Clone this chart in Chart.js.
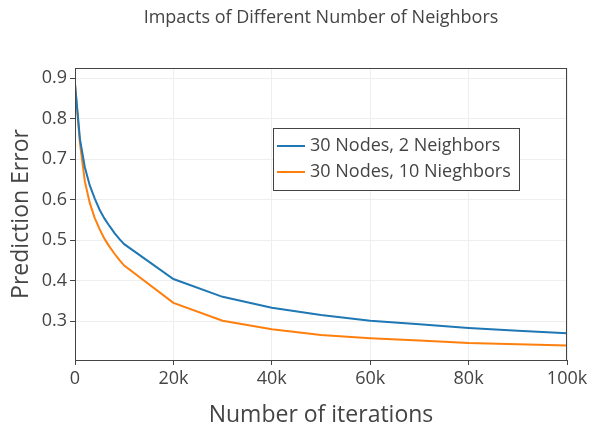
<!DOCTYPE html>
<html>
<head>
<meta charset="utf-8">
<script src="https://cdn.jsdelivr.net/npm/chart.js@4/dist/chart.umd.min.js"></script>
<style>
  html, body { margin: 0; padding: 0; background: #fff; }
  #wrap { width: 596px; height: 429px; }
</style>
</head>
<body>
<div id="wrap"><canvas id="neighborsChart" width="596" height="429"></canvas></div>
<script>
// Veriler (grafikten okunan yaklaşık değerler)
const iterations = [0, 1000, 2000, 3000, 4000, 5000, 6000, 7000, 8000, 9000, 10000,
                    20000, 30000, 40000, 50000, 60000, 70000, 80000, 90000, 100000];
const errTwoNeighbors = [0.885, 0.75, 0.68, 0.635, 0.603, 0.575, 0.553, 0.535, 0.518, 0.503, 0.49,
                         0.404, 0.36, 0.333, 0.315, 0.301, 0.292, 0.283, 0.276, 0.27];
const errTenNeighbors = [0.885, 0.74, 0.645, 0.592, 0.555, 0.527, 0.503, 0.484, 0.467, 0.451, 0.437,
                         0.345, 0.301, 0.28, 0.266, 0.258, 0.252, 0.246, 0.243, 0.24];
const seriesLabels = ['30 Nodes, 2 Neighbors', '30 Nodes, 10 Nieghbors'];
const seriesColors = ['#1f77b4', '#ff7f0e'];
const xTickLabels = ['0', '20k', '40k', '60k', '80k', '100k'];
const yTickValues = [0.3, 0.4, 0.5, 0.6, 0.7, 0.8, 0.9];
const chartTitle = 'Impacts of Different Number of Neighbors';

const STYLE = {
    textColor: '#444',
    gridColor: '#eee',
    fontFamily: "'Open Sans', sans-serif"
};

function toPoints(values) {
    return values.map((v, i) => ({ x: iterations[i], y: v }));
}

// başlık, çerçeve ve kutulu lejant
const plotlyLook = {
    id: 'plotlyLook',
    afterDraw(chart) {
        const ctx = chart.ctx;
        const a = chart.chartArea;
        ctx.save();
        // ayna eksen çizgileri
        ctx.strokeStyle = '#444';
        ctx.lineWidth = 1;
        ctx.strokeRect(Math.round(a.left) + 0.5, Math.round(a.top) + 0.5,
                       Math.round(a.right - a.left) - 1, Math.round(a.bottom - a.top));

        // başlık (çizim alanına ortalı)
        ctx.fillStyle = STYLE.textColor;
        ctx.font = '18px ' + STYLE.fontFamily;
        ctx.textAlign = 'center';
        ctx.textBaseline = 'middle';
        ctx.fillText(chartTitle, (a.left + a.right) / 2, 18);

        // lejant
        const bx = 273, by = 128, bw = 246, bh = 62;
        ctx.fillStyle = '#fff';
        ctx.fillRect(bx, by, bw, bh);
        ctx.strokeStyle = '#444';
        ctx.strokeRect(bx + 0.5, by + 0.5, bw, bh);
        ctx.font = '18px ' + STYLE.fontFamily;
        ctx.textAlign = 'left';
        seriesLabels.forEach((lbl, i) => {
            const y = 146 + i * 26;
            ctx.strokeStyle = seriesColors[i];
            ctx.lineWidth = 2;
            ctx.beginPath();
            ctx.moveTo(277, y);
            ctx.lineTo(305, y);
            ctx.stroke();
            ctx.fillStyle = STYLE.textColor;
            ctx.fillText(lbl, 310, y);
        });
        ctx.restore();
    }
};

const ctx = document.getElementById('neighborsChart').getContext('2d');
new Chart(ctx, {
    type: 'line',
    data: {
        datasets: [
            {
                label: seriesLabels[0],
                data: toPoints(errTwoNeighbors),
                borderColor: seriesColors[0],
                borderWidth: 2,
                pointRadius: 0,
                tension: 0,
                fill: false
            },
            {
                label: seriesLabels[1],
                data: toPoints(errTenNeighbors),
                borderColor: seriesColors[1],
                borderWidth: 2,
                pointRadius: 0,
                tension: 0,
                fill: false
            }
        ]
    },
    options: {
        responsive: false,
        animation: false,
        layout: { padding: { left: 0, top: 68, right: 29, bottom: 0 } },
        plugins: {
            legend: { display: false },
            title: { display: false },
            tooltip: { enabled: false }
        },
        scales: {
            x: {
                type: 'linear',
                min: 0,
                max: 100000,
                afterFit: (scale) => { scale.height = 69; },
                afterBuildTicks: (scale) => {
                    scale.ticks = xTickLabels.map((_, i) => ({ value: i * 20000 }));
                },
                grid: { color: STYLE.gridColor, tickColor: '#444', tickLength: 5 },
                border: { color: '#444' },
                ticks: {
                    color: STYLE.textColor,
                    font: { family: STYLE.fontFamily, size: 18 },
                    padding: 3,
                    maxRotation: 0,
                    callback: (v, i) => xTickLabels[i]
                },
                title: {
                    display: true,
                    text: 'Number of iterations',
                    color: STYLE.textColor,
                    font: { family: STYLE.fontFamily, size: 23 },
                    padding: { top: 0, bottom: 0 }
                }
            },
            y: {
                min: 0.204,
                max: 0.925,
                afterFit: (scale) => { scale.width = 75; },
                afterBuildTicks: (scale) => {
                    scale.ticks = yTickValues.map(v => ({ value: v }));
                },
                grid: { color: STYLE.gridColor, tickColor: '#444', tickLength: 5 },
                border: { color: '#444' },
                ticks: {
                    color: STYLE.textColor,
                    font: { family: STYLE.fontFamily, size: 18 },
                    padding: 3,
                    callback: (v) => v.toFixed(1)
                },
                title: {
                    display: true,
                    text: 'Prediction Error',
                    color: STYLE.textColor,
                    font: { family: STYLE.fontFamily, size: 23 },
                    padding: { top: 8, bottom: 0 }
                }
            }
        }
    },
    plugins: [plotlyLook]
});
</script>
</body>
</html>
